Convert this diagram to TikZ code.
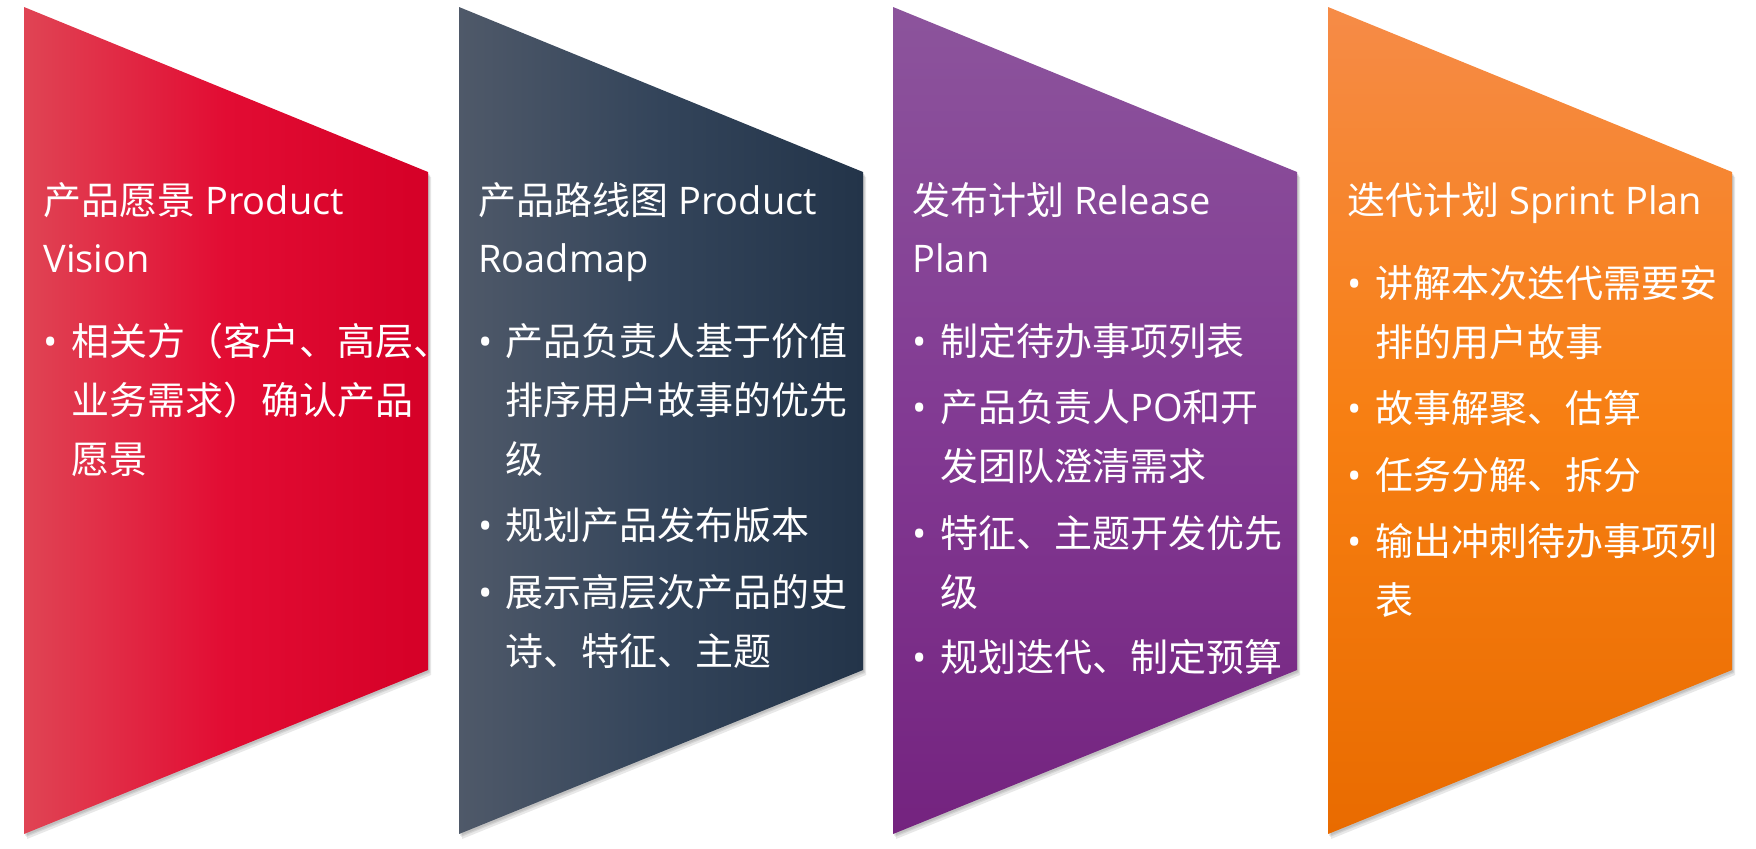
\documentclass[tikz,border=0pt]{standalone}
\usepackage{fontspec}
\setmainfont{Open Sans}
\newfontfamily\cjk{Noto Sans CJK SC}
\newfontfamily\lat{Open Sans}
\newcommand\mlines[1]{\begin{tabular}[t]{@{}l@{}}#1\end{tabular}}
\definecolor{redL}{HTML}{E04454}
\definecolor{redM}{HTML}{E20C33}
\definecolor{redR}{HTML}{D50027}
\definecolor{navL}{HTML}{4F5969}
\definecolor{navM}{HTML}{33445A}
\definecolor{navR}{HTML}{233449}
\definecolor{purT}{HTML}{8C549C}
\definecolor{purM}{HTML}{823A93}
\definecolor{purB}{HTML}{74237F}
\definecolor{oraT}{HTML}{F68B47}
\definecolor{oraM}{HTML}{F77F12}
\definecolor{oraB}{HTML}{E96B00}
\begin{document}
\begin{tikzpicture}[x=0.5pt,y=-0.5pt,
  panel/.style={insert path={(#1,7) -- (#1+404,172) -- (#1+404,670) -- (#1,834) -- cycle}},
  shd/.style={fill=black, fill opacity=0.09},
  ttl/.style={anchor=base west, inner sep=0pt, text=white, font=\fontsize{19}{29}\selectfont},
  btxt/.style={anchor=base west, inner sep=0pt, text=white, font=\fontsize{19}{29.5}\selectfont\cjk},
  bdot/.style={anchor=base, inner sep=0pt, text=white, font=\fontsize{19}{29.5}\selectfont}]
\useasboundingbox (0,0) rectangle (1756,848);
% shadows
\foreach \L in {24,459,893,1328}{
  \fill[shd, shift={(1,2)}, panel=\L];
  \fill[shd, shift={(2,3)}, panel=\L];
  \fill[shd, shift={(3,5)}, panel=\L];
}
% panels
\shade[left color=redL, right color=redR, middle color=redM, panel=24];
\shade[left color=navL, right color=navR, middle color=navM, panel=459];
\shade[top color=purT, bottom color=purB, middle color=purM, panel=893];
\shade[top color=oraT, bottom color=oraB, middle color=oraM, panel=1328];

% panel 1
\node[ttl] (t1) at (43,214) {\mlines{{\cjk 产品愿景} Product\\Vision}};
\node[bdot] (d11) at (51,355) {•};
\node[btxt] (b11) at (71,355) {\mlines{相关方（客户、高层、\\业务需求）确认产品\\愿景}};

% panel 2
\node[ttl] (t2) at (478,214) {\mlines{{\cjk 产品路线图} Product\\Roadmap}};
\node[bdot] (d21) at (486,355) {•};
\node[btxt] (b21) at (505,355) {\mlines{产品负责人基于价值\\排序用户故事的优先\\级}};
\node[bdot] (d22) at (486,539) {•};
\node[btxt] (b22) at (505,539) {规划产品发布版本};
\node[bdot] (d23) at (486,606) {•};
\node[btxt] (b23) at (505,606) {\mlines{展示高层次产品的史\\诗、特征、主题}};

% panel 3
\node[ttl] (t3) at (912,214) {\mlines{{\cjk 发布计划} Release\\Plan}};
\node[bdot] (d31) at (920,355) {•};
\node[btxt] (b31) at (940,355) {制定待办事项列表};
\node[bdot] (d32) at (920,421) {•};
\node[btxt] (b32) at (940,421) {\mlines{产品负责人{\lat PO}和开\\发团队澄清需求}};
\node[bdot] (d33) at (920,547) {•};
\node[btxt] (b33) at (940,547) {\mlines{特征、主题开发优先\\级}};
\node[bdot] (d34) at (920,671) {•};
\node[btxt] (b34) at (940,671) {规划迭代、制定预算};

% panel 4
\node[ttl] (t4) at (1347,214) {{\cjk 迭代计划} Sprint Plan};
\node[bdot] (d41) at (1355,297) {•};
\node[btxt] (b41) at (1375,297) {\mlines{讲解本次迭代需要安\\排的用户故事}};
\node[bdot] (d42) at (1355,422) {•};
\node[btxt] (b42) at (1375,422) {故事解聚、估算};
\node[bdot] (d43) at (1355,489) {•};
\node[btxt] (b43) at (1375,489) {任务分解、拆分};
\node[bdot] (d44) at (1355,555) {•};
\node[btxt] (b44) at (1375,555) {\mlines{输出冲刺待办事项列\\表}};
\end{tikzpicture}
\end{document}
